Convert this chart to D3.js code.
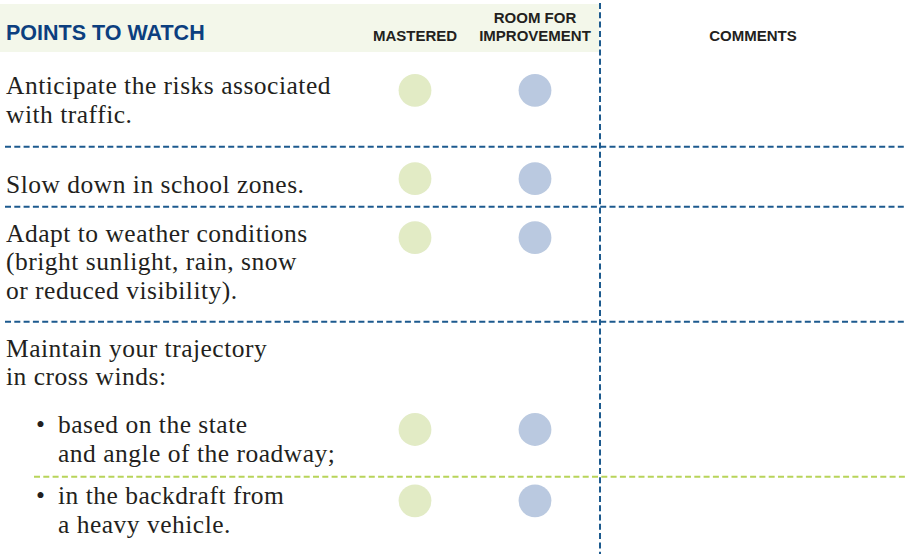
<!DOCTYPE html>
<html>
<head>
<meta charset="utf-8">
<script src="https://cdn.jsdelivr.net/npm/d3@7"></script>
<style>
  html, body { margin: 0; padding: 0; background: #fff; }
  svg { display: block; }
</style>
</head>
<body>
<svg id="chart" width="907" height="554"></svg>
<script>
// ---- data ----
const title = "POINTS TO WATCH";
const columns = ["MASTERED", "ROOM FOR IMPROVEMENT", "COMMENTS"];
const columnLines = [["MASTERED"], ["ROOM FOR", "IMPROVEMENT"], ["COMMENTS"]];
const items = [
  ["Anticipate the risks associated", "with traffic."],
  ["Slow down in school zones."],
  ["Adapt to weather conditions", "(bright sunlight, rain, snow", "or reduced visibility)."],
  ["Maintain your trajectory", "in cross winds:"],
  ["based on the state", "and angle of the roadway;"],
  ["in the backdraft from", "a heavy vehicle."]
];
const isBullet = [false, false, false, false, true, true];
const hasRating = [true, true, true, false, true, true];
const ratingSeries = ["MASTERED", "ROOM FOR IMPROVEMENT"];

// ---- layout (not data) ----
const W = 907, H = 554;
const rowTops = [52, 146.7, 206.7, 321.7, 321.7, 476.7];
const textFirstBaseline = [94.3, 193.3, 241.7, 356.7, 433.3, 504];
const circleY = [90.3, 178.7, 237.6, null, 429.5, 500.8];
const lineH = 28.5;
const dividerKind = [null, "blue", "blue", "blue", null, "green"];
const serif = "'Liberation Serif', 'Times New Roman', serif";
const sans = "'Liberation Sans', Arial, sans-serif";

const svg = d3.select("#chart");

const x = d3.scaleOrdinal().domain(columns).range([415, 535, 753]);
const colorRating = d3.scaleOrdinal().domain(ratingSeries).range(["#e2ebc5", "#bac9e0"]);

// header band
svg.append("rect").attr("x", 0).attr("y", 4).attr("width", 599).attr("height", 48).attr("fill", "#f3f7ea");

svg.append("text").attr("x", 6).attr("y", 40)
  .attr("font-family", sans)
  .attr("font-weight", "bold").attr("font-size", 21.5).attr("fill", "#0c3f7f")
  .text(title);

columns.forEach((c, i) => {
  const lines = columnLines[i];
  const t = svg.append("text")
    .attr("text-anchor", "middle")
    .attr("font-family", sans)
    .attr("font-weight", "bold").attr("font-size", 15).attr("fill", "#231f20");
  lines.forEach((ln, j) => {
    t.append("tspan").attr("x", x(c)).attr("y", 40.5 - (lines.length - 1 - j) * 18).text(ln);
  });
});

// dividers
const dash = "6,3.3";
items.forEach((it, i) => {
  const k = dividerKind[i];
  if (!k) return;
  svg.append("line")
    .attr("x1", k === "green" ? 34 : 5).attr("x2", W)
    .attr("y1", rowTops[i]).attr("y2", rowTops[i])
    .attr("stroke", k === "green" ? "#b8d45a" : "#1c5a8e")
    .attr("stroke-width", 2)
    .attr("stroke-dasharray", dash);
});

// vertical divider
svg.append("line").attr("x1", 600).attr("x2", 600).attr("y1", 3).attr("y2", H)
  .attr("stroke", "#1c5a8e").attr("stroke-width", 2).attr("stroke-dasharray", dash);

// item text
items.forEach((lines, i) => {
  const tx = isBullet[i] ? 58 : 6;
  if (isBullet[i]) {
    svg.append("text").attr("x", 36).attr("y", textFirstBaseline[i])
      .attr("font-family", serif)
      .attr("font-size", 25.5).attr("fill", "#231f20").text("\u2022");
  }
  const t = svg.append("text")
    .attr("font-family", serif)
    .attr("font-size", 25.5).attr("letter-spacing", 0.5).attr("fill", "#231f20");
  lines.forEach((ln, j) => {
    t.append("tspan").attr("x", tx).attr("y", textFirstBaseline[i] + j * lineH).text(ln);
  });
});

// rating circles
items.forEach((it, i) => {
  if (!hasRating[i]) return;
  ratingSeries.forEach(s => {
    svg.append("circle").attr("cx", x(s)).attr("cy", circleY[i]).attr("r", 16.4)
      .attr("fill", colorRating(s));
  });
});
</script>
</body>
</html>
